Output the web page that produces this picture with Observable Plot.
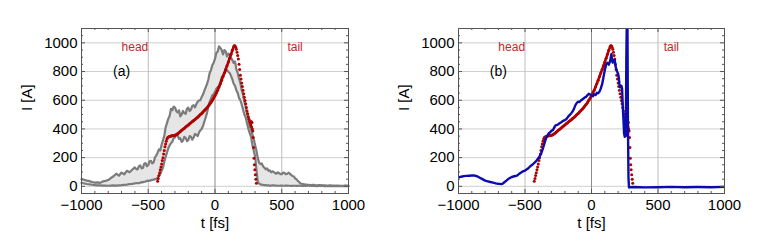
<!DOCTYPE html>
<html><head><meta charset="utf-8">
<script src="https://cdn.jsdelivr.net/npm/d3@7"></script>
<script src="https://cdn.jsdelivr.net/npm/@observablehq/plot@0.6"></script>
<style>
body{margin:0;background:#fff;}
#wrap{position:relative;width:763px;height:246px;overflow:hidden;background:#fff;}
#wrap > div{position:absolute;top:0;}
</style></head><body>
<div id="wrap"><div id="pa" style="left:0px"></div><div id="pb" style="left:380px"></div></div>
<script>
// ---- data ----
// simulated band: [t (fs), lower I (A), upper I (A)]
const band = [
[-1000,24,50],[-980,20,46],[-960,16,40],[-940,14,36],[-920,11,30],[-900,9,26],[-880,7,28],[-860,6,24],[-840,5,34],[-820,5,38],
[-800,4,44],[-780,5,58],[-760,6,70],[-740,5,88],[-720,7,74],[-700,8,96],[-680,10,84],[-660,12,108],[-640,15,98],[-620,17,116],
[-600,20,132],[-590,22,120],[-580,23,118],[-570,21,140],[-560,26,146],[-550,29,125],[-540,28,128],[-530,32,158],[-520,33,162],[-510,38,140],
[-500,40,148],[-490,38,175],[-480,43,178],[-470,45,160],[-460,47,166],[-450,50,200],[-440,52,215],[-430,60,235],[-420,75,258],[-410,85,250],
[-400,110,290],[-390,130,320],[-380,170,350],[-370,205,410],[-360,235,440],[-350,265,470],[-340,285,490],[-330,300,540],[-320,310,530],[-310,335,555],
[-300,340,550],[-290,365,525],[-280,355,515],[-270,330,530],[-260,335,488],[-250,310,500],[-240,318,525],[-230,345,510],[-220,338,505],[-210,315,540],
[-200,322,548],[-190,350,525],[-180,346,535],[-170,325,560],[-160,340,565],[-150,365,550],[-140,360,572],[-130,350,590],[-120,375,598],[-110,390,600],
[-100,400,622],[-90,420,640],[-80,450,665],[-70,480,690],[-60,510,712],[-50,555,745],[-40,590,790],[-30,610,810],[-20,635,845],[-10,640,860],
[0,660,890],[10,680,930],[20,690,938],[30,700,975],[40,725,965],[50,760,950],[60,770,920],[70,790,950],[80,800,940],[90,810,905],
[100,798,925],[110,790,915],[120,770,895],[130,745,880],[140,715,860],[150,700,870],[160,670,815],[170,650,790],[180,615,750],[190,600,720],
[200,570,670],[210,535,640],[220,500,590],[230,480,555],[240,440,505],[250,400,470],[260,370,420],[270,345,400],[280,290,360],[290,250,330],
[300,210,290],[310,120,250],[320,35,200],[330,20,165],[340,14,155],[350,12,160],[360,10,140],[370,9,130],[380,8,118],[390,7,125],
[400,6,108],[410,5,112],[420,5,98],[430,6,105],[440,6,100],[450,5,92],[460,5,88],[470,4,98],[480,4,92],[490,5,85],
[500,5,84],[510,4,96],[520,4,94],[530,5,85],[540,5,86],[550,4,95],[560,4,88],[570,3,80],[580,3,72],[590,4,70],
[600,4,55],[610,3,50],[620,3,38],[630,4,30],[640,4,20],[650,3,18],[660,3,16],[670,3,12],[680,3,13],[690,4,10],
[700,4,11],[720,3,8],[740,3,10],[760,2,6],[780,3,8],
[800,3,6],[820,2,7],[840,3,4],[860,2,6],[880,2,5],[900,3,4],[920,2,5],[940,2,3],[960,2,4],[980,3,5],[1000,2,3]
];
// measured profile (red dots): [t, I]
const measured = [
[-430,35],[-425,55],[-420,75],[-415,95],[-410,115],[-405,135],[-400,155],[-395,180],[-390,200],[-385,225],[-380,250],[-375,275],[-370,295],[-365,315],[-360,330],[-355,338],[-350,343],
[-340,348],[-330,350],[-320,352],[-310,354],[-300,356],[-290,360],[-280,366],[-270,374],[-260,382],[-250,390],
[-240,398],[-230,405],[-220,413],[-210,420],[-200,428],[-190,436],[-180,443],[-170,451],[-160,458],[-150,466],
[-140,474],[-130,482],[-120,491],[-110,500],[-100,508],[-90,518],[-80,528],[-70,538],[-60,548],[-50,560],
[-40,572],[-30,585],[-20,600],[-10,615],[0,632],[10,650],[20,670],[30,692],[40,715],[50,740],
[60,765],[70,790],[80,815],[90,840],[100,866],[110,893],[120,920],[130,948],[140,972],
[145,980],[150,978],[155,970],[160,955],[165,935],[170,912],[175,888],[180,850],[185,815],[190,775],[195,748],[200,720],[205,695],[210,670],[215,645],[220,620],[225,598],[230,575],[235,550],[240,525],[245,505],[250,485],[255,468],[260,452],[265,440],
[268,428],[271,452],[274,415],[277,445],[280,400],[283,385],[286,340],[289,270],[292,195],[295,150],[298,115],
[302,80],[306,50],[310,22]
];
// range of the measured profile where the dots merge into a solid trace
const solidRange = [-352, 150];
// panel (b) blue curve: [t, I]
const reconstructed = [
[-1000,62],[-980,67],[-960,71],[-940,73],[-920,74],[-900,75],[-880,75],[-860,70],[-840,60],[-820,50],
[-800,40],[-780,35],[-760,30],[-740,26],[-720,21],[-700,18],[-690,17],[-680,15],[-670,17],[-660,25],
[-640,40],[-620,55],[-600,65],[-580,70],[-560,75],[-540,90],[-520,102],[-500,110],[-480,122],[-460,140],
[-440,155],[-420,172],[-400,195],[-380,225],[-370,250],[-360,280],[-350,312],[-340,340],[-330,358],[-320,370],
[-310,378],[-300,388],[-290,392],[-280,410],[-270,425],[-260,428],[-250,432],[-240,440],[-230,445],[-220,452],
[-210,458],[-200,462],[-190,468],[-180,480],[-170,492],[-160,500],[-150,512],[-140,525],[-130,545],[-120,568],
[-110,582],[-100,590],[-90,588],[-80,598],[-70,605],[-60,612],[-50,620],[-40,624],[-30,636],[-20,645],
[-10,640],[0,632],[10,628],[20,642],[30,636],[40,652],[50,648],[60,660],[70,682],[80,712],
[90,760],[100,810],[110,850],[120,862],[130,848],[140,872],[145,898],[150,922],[155,880],[160,862],
[165,878],[170,868],[175,880],[180,840],[185,822],[190,806],[195,795],[200,785],[205,760],[210,715],
[215,690],[220,695],[225,700],[230,680],[235,560],[240,470],[245,370],[250,345],[254,420],[258,350],
[262,900],[266,1180],[270,1180],[274,450],[278,60],[282,-8],[290,-6],[320,-5],[400,-7],[500,-6],
[600,-4],[700,-6],[800,-5],[900,-6],[1000,-4]
];
const xDomain = [-1000, 1000];
const yDomain = [-50, 1100];
const xMajor = [-1000, -500, 0, 500, 1000];
const xMinor = [-900,-800,-700,-600,-400,-300,-200,-100,100,200,300,400,600,700,800,900];
const yMajor = [0, 200, 400, 600, 800, 1000];
const yMinor = [-50,50,100,150,250,300,350,450,500,550,650,700,750,850,900,950,1050,1100];
const gridXLight = [-500, 500];
const gridXDark = [0];
const annotations = [{t: -600, i: 970, s: "head"}, {t: 600, i: 970, s: "tail"}];

const font = "'Liberation Sans', Arial, Helvetica, sans-serif";
const fmt = d => d < 0 ? "\u2212" + (-d) : String(d);
const frameC = "#555";

function ticks() {
  const y0 = yDomain[0], y1 = yDomain[1], x0 = xDomain[0], x1 = xDomain[1];
  const m = [];
  const mk = (vals, len) => {
    m.push(Plot.ruleX(vals, {x: d => d, y1: y0, y2: y0, insetTop: -len, stroke: frameC}));
    m.push(Plot.ruleX(vals, {x: d => d, y1: y1, y2: y1, insetBottom: -len, stroke: frameC}));
  };
  const mky = (vals, len) => {
    m.push(Plot.ruleY(vals, {y: d => d, x1: x0, x2: x0, insetRight: -len, stroke: frameC}));
    m.push(Plot.ruleY(vals, {y: d => d, x1: x1, x2: x1, insetLeft: -len, stroke: frameC}));
  };
  mk(xMajor, 4); mk(xMinor, 2); mky(yMajor, 4); mky(yMinor, 2);
  return m;
}

const red = "#b00000";
function panel(el, {marginLeft, marginRight, width, tag, blue}) {
  const marks = [
    Plot.ruleY(yMajor, {stroke: "#cfcfcf", strokeWidth: 1}),
    Plot.ruleX(gridXLight, {stroke: "#bdbdbd", strokeWidth: 1}),
    Plot.ruleX(gridXDark, {stroke: "#8c8c8c", strokeWidth: 1}),
  ];
  if (!blue) {
    marks.push(
      Plot.areaY(band, {x: d => d[0], y1: d => d[1], y2: d => d[2], fill: "#e6e6e6"}),
      Plot.lineY(band, {x: d => d[0], y: d => d[2], stroke: "#7c7c7c", strokeWidth: 2.2}),
      Plot.lineY(band, {x: d => d[0], y: d => d[1], stroke: "#7c7c7c", strokeWidth: 2.2})
    );
  }
  marks.push(
    Plot.line(measured.filter(d => d[0] >= solidRange[0] && d[0] <= solidRange[1]),
      {x: d => d[0], y: d => d[1], stroke: red, strokeWidth: 2.6}),
    Plot.dot(measured, {x: d => d[0], y: d => d[1], r: 1.5, fill: red, stroke: null})
  );
  if (blue) {
    marks.push(Plot.line(reconstructed, {x: d => d[0], y: d => d[1], stroke: "#0c0cae", strokeWidth: 2.4, clip: true}));
  }
  marks.push(
    Plot.frame({stroke: frameC}),
    ...ticks(),
    Plot.axisX({ticks: xMajor, tickSize: 0, tickPadding: 6, tickFormat: fmt, label: null, fontSize: 15}),
    Plot.axisY({ticks: yMajor, tickSize: 0, tickPadding: 4, tickFormat: fmt, label: null, fontSize: 15}),
    Plot.text(["t [fs]"], {frameAnchor: "bottom", dy: 30, lineAnchor: "middle", fontSize: 15}),
    Plot.text(["I [A]"], {frameAnchor: "left", dx: -54, rotate: -90, fontSize: 15}),
    Plot.text(annotations, {x: "t", y: "i", text: "s", fill: "#c0282a", fontSize: 12}),
    Plot.text([tag], {x: -700, y: 800, fontSize: 14})
  );
  const p = Plot.plot({
    width, height: 246, marginLeft, marginRight, marginTop: 28, marginBottom: 53,
    x: {domain: xDomain}, y: {domain: yDomain},
    style: {fontFamily: font, fontSize: "14px", color: "#000", background: "transparent", overflow: "visible"},
    marks
  });
  el.appendChild(p);
}
panel(document.getElementById("pa"), {marginLeft: 81, marginRight: 32, width: 380, tag: "(a)", blue: false});
panel(document.getElementById("pb"), {marginLeft: 78, marginRight: 39, width: 383, tag: "(b)", blue: true});
</script>
</body></html>
